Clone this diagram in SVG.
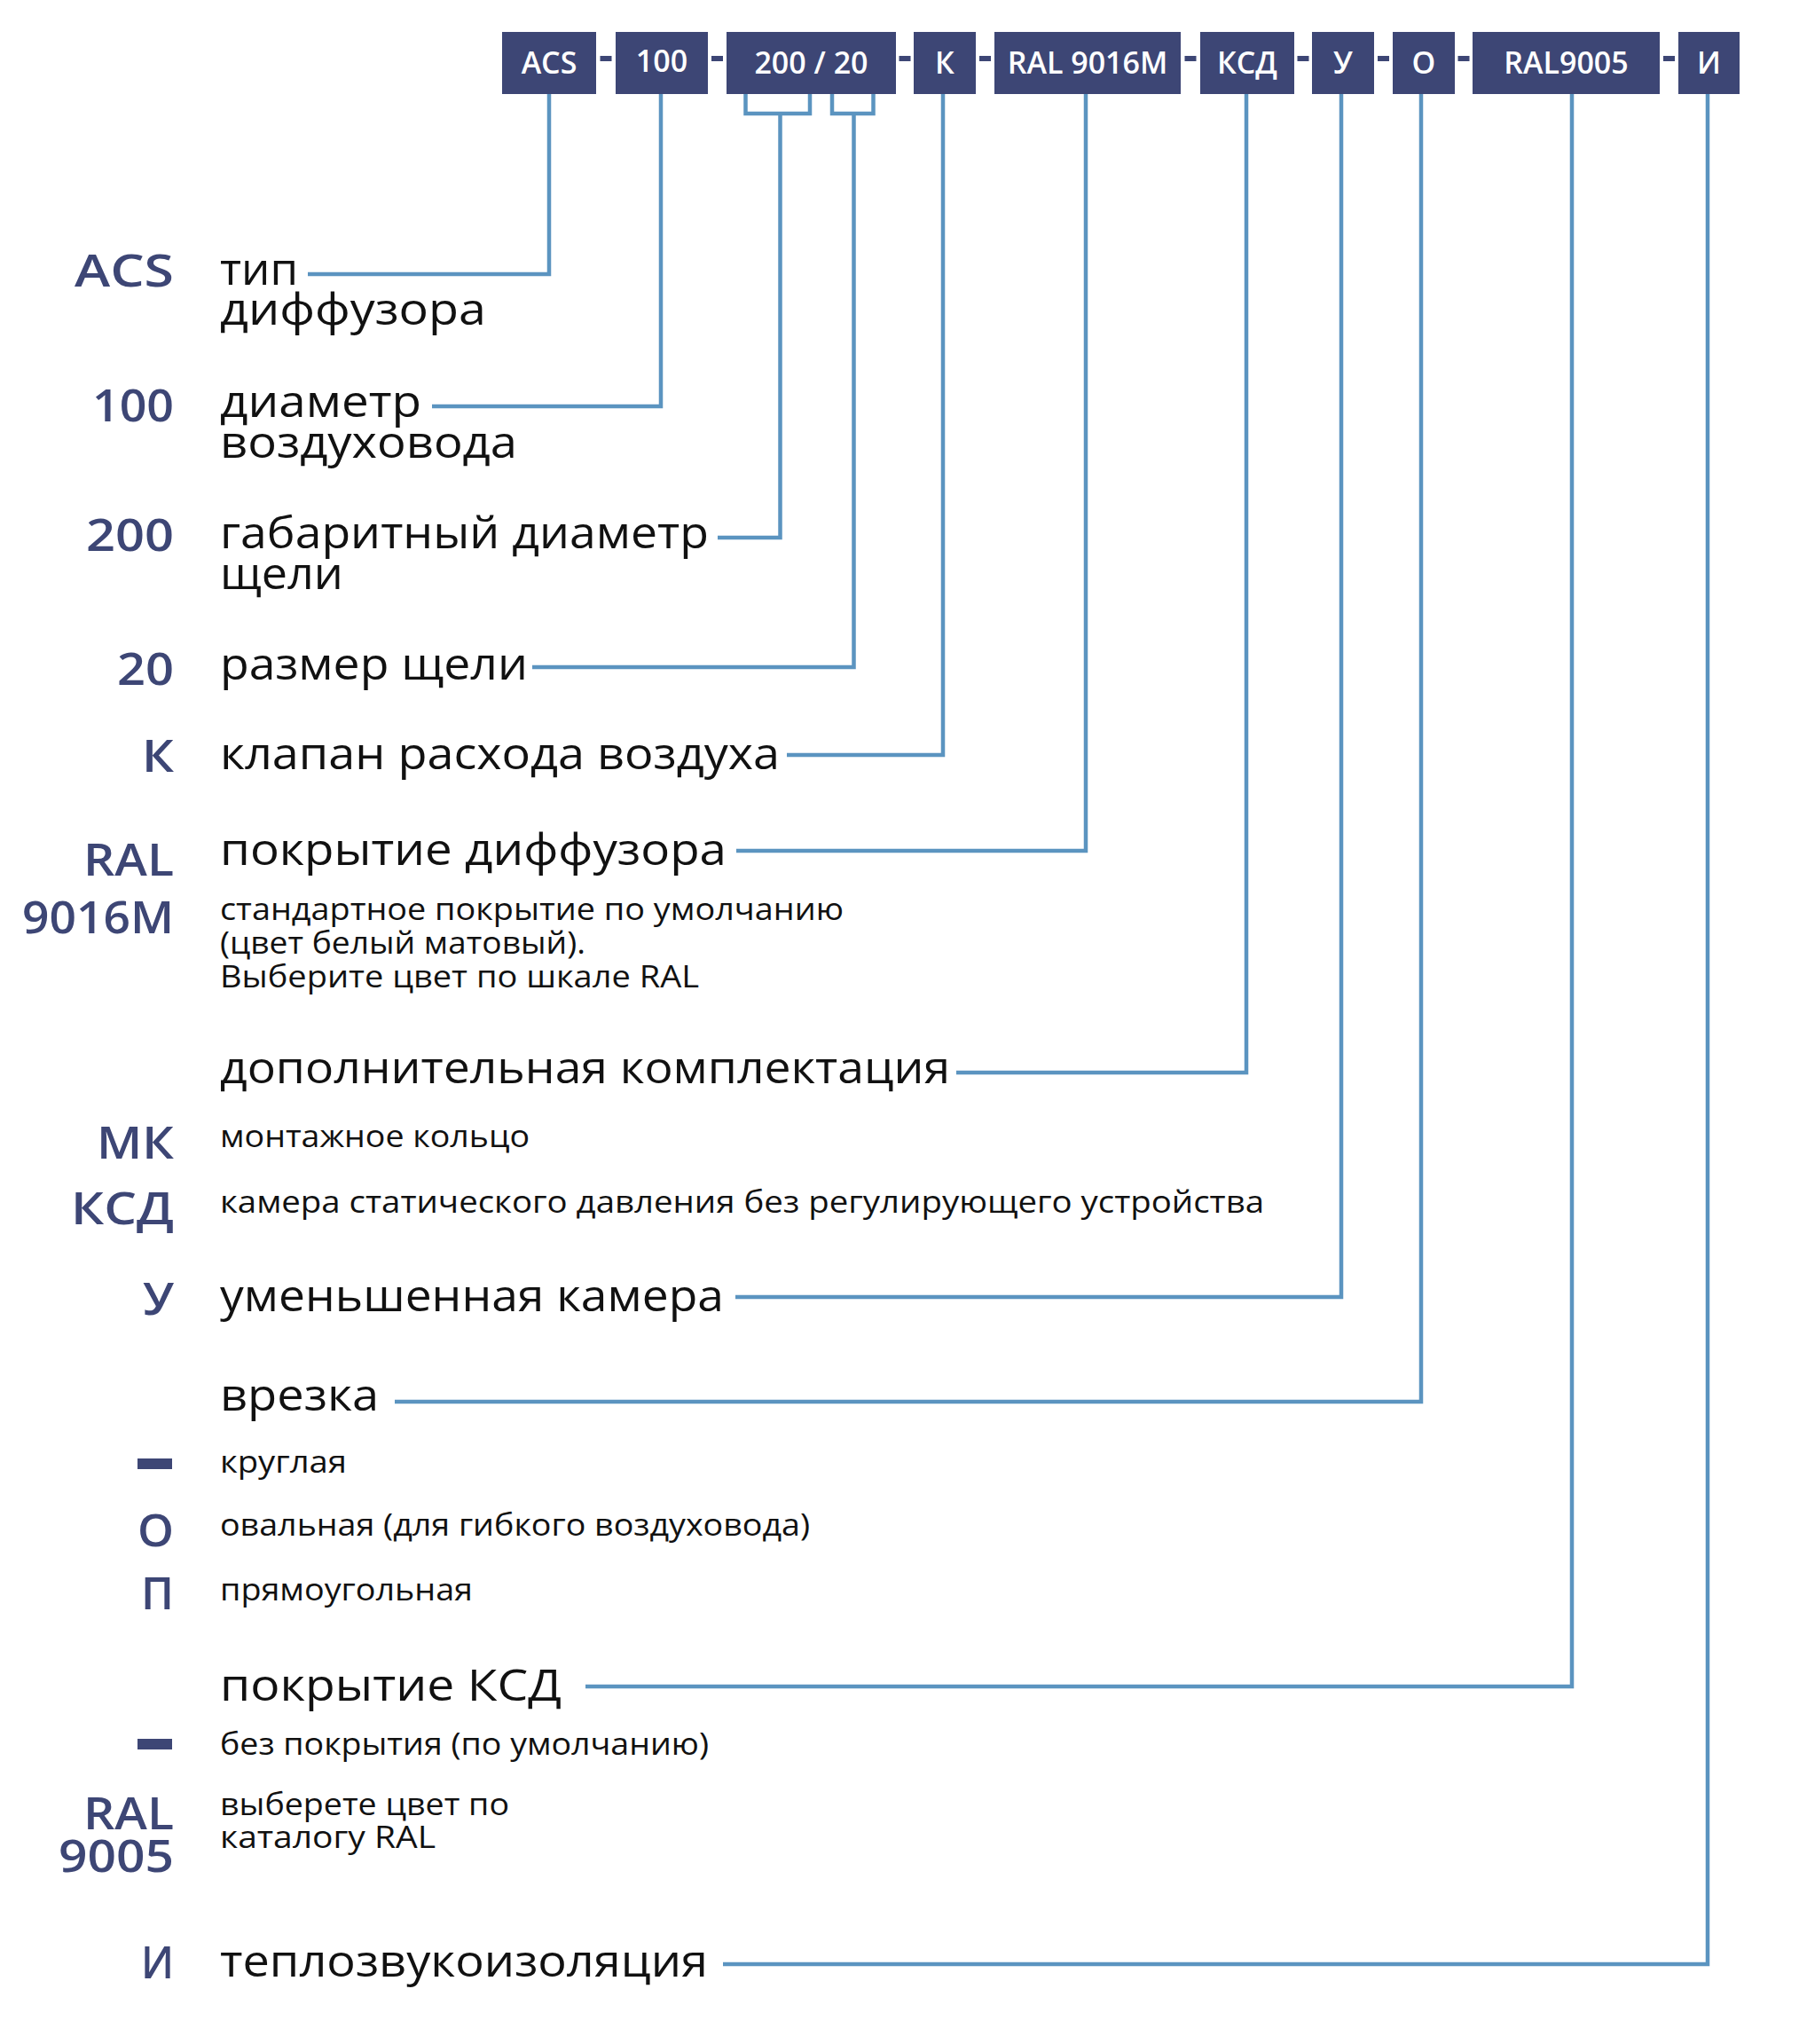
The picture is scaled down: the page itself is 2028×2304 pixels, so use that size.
<svg xmlns="http://www.w3.org/2000/svg" width="2028" height="2304" viewBox="0 0 2028 2304">
<style>
.box{fill:#3d4675}
.bt{font-family:"Open Sans","Liberation Sans",sans-serif;font-weight:600;font-size:34px;fill:#fff;text-anchor:middle}
.dash{fill:#3d4675}
.code{font-family:"Open Sans","Liberation Sans",sans-serif;font-weight:600;font-size:50px;fill:#3d4675}
.big{font-family:"Open Sans","Liberation Sans",sans-serif;font-size:50px;fill:#111}
.small{font-family:"Open Sans","Liberation Sans",sans-serif;font-size:34px;fill:#111}
.ln{fill:none;stroke:#5b94c0;stroke-width:4.5}
</style>
<rect width="2028" height="2304" fill="#fff"/>
<g id="code-boxes">
<g id="box-acs"><rect class="box" x="566" y="36" width="106" height="70"/><text class="bt" x="619" y="83">ACS</text></g>
<g id="box-100"><rect class="box" x="694" y="36" width="104" height="70"/><text class="bt" x="746" y="81">100</text></g>
<g id="box-200-20"><rect class="box" x="819" y="36" width="191" height="70"/><text class="bt" x="914.5" y="83">200 / 20</text></g>
<g id="box-k"><rect class="box" x="1030" y="36" width="70" height="70"/><text class="bt" x="1065" y="83">К</text></g>
<g id="box-ral9016m"><rect class="box" x="1121" y="36" width="210" height="70"/><text class="bt" x="1226" y="83">RAL 9016M</text></g>
<g id="box-ksd"><rect class="box" x="1353" y="36" width="106" height="70"/><text class="bt" x="1406" y="83">КСД</text></g>
<g id="box-u"><rect class="box" x="1479" y="36" width="70" height="70"/><text class="bt" x="1514" y="83">У</text></g>
<g id="box-o"><rect class="box" x="1570" y="36" width="70" height="70"/><text class="bt" x="1605" y="83">О</text></g>
<g id="box-ral9005"><rect class="box" x="1660" y="36" width="211" height="70"/><text class="bt" x="1765.5" y="83">RAL9005</text></g>
<g id="box-i"><rect class="box" x="1892" y="36" width="69" height="70"/><text class="bt" x="1926.5" y="83">И</text></g>
</g>
<g id="separators">
<rect class="dash" x="676.5" y="63" width="13" height="6"/>
<rect class="dash" x="802" y="63" width="13" height="6"/>
<rect class="dash" x="1013.5" y="63" width="13" height="6"/>
<rect class="dash" x="1104" y="63" width="13" height="6"/>
<rect class="dash" x="1335.5" y="63" width="13" height="6"/>
<rect class="dash" x="1462.5" y="63" width="13" height="6"/>
<rect class="dash" x="1553" y="63" width="13" height="6"/>
<rect class="dash" x="1643.5" y="63" width="13" height="6"/>
<rect class="dash" x="1875" y="63" width="13" height="6"/>
</g>
<g id="connectors">
<path class="ln" d="M619 106V309H347"/>
<path class="ln" d="M745 106V458H487"/>
<path class="ln" d="M840.5 106V128H913V106"/>
<path class="ln" d="M879.5 128V606H809"/>
<path class="ln" d="M938 106V128H984.5V106"/>
<path class="ln" d="M962.5 128V752H600"/>
<path class="ln" d="M1063 106V851H887"/>
<path class="ln" d="M1224 106V959H830"/>
<path class="ln" d="M1405 106V1209H1078"/>
<path class="ln" d="M1512 106V1462H829"/>
<path class="ln" d="M1602 106V1580H445"/>
<path class="ln" d="M1772 106V1901H660"/>
<path class="ln" d="M1925 106V2214H815"/>
</g>
<g id="item-acs"><text class="code" x="84" y="323" textLength="112" lengthAdjust="spacingAndGlyphs">ACS</text><text class="big" x="248" y="321" textLength="88" lengthAdjust="spacingAndGlyphs">тип</text><text class="big" x="248" y="366" textLength="300" lengthAdjust="spacingAndGlyphs">диффузора</text></g>
<g id="item-100"><text class="code" x="104" y="475" textLength="92" lengthAdjust="spacingAndGlyphs">100</text><text class="big" x="248" y="470" textLength="227" lengthAdjust="spacingAndGlyphs">диаметр</text><text class="big" x="248" y="516" textLength="335" lengthAdjust="spacingAndGlyphs">воздуховода</text></g>
<g id="item-200"><text class="code" x="97" y="621" textLength="99" lengthAdjust="spacingAndGlyphs">200</text><text class="big" x="248" y="618" textLength="551" lengthAdjust="spacingAndGlyphs">габаритный диаметр</text><text class="big" x="248" y="664" textLength="139" lengthAdjust="spacingAndGlyphs">щели</text></g>
<g id="item-20"><text class="code" x="132" y="772" textLength="64" lengthAdjust="spacingAndGlyphs">20</text><text class="big" x="248" y="766" textLength="347" lengthAdjust="spacingAndGlyphs">размер щели</text></g>
<g id="item-k"><text class="code" x="160" y="870" textLength="36" lengthAdjust="spacingAndGlyphs">К</text><text class="big" x="248" y="867" textLength="631" lengthAdjust="spacingAndGlyphs">клапан расхода воздуха</text></g>
<g id="item-ral9016m"><text class="code" x="94" y="987" textLength="102" lengthAdjust="spacingAndGlyphs">RAL</text><text class="code" x="25" y="1052" textLength="171" lengthAdjust="spacingAndGlyphs">9016M</text><text class="big" x="248" y="975" textLength="571" lengthAdjust="spacingAndGlyphs">покрытие диффузора</text>
<text class="small" x="248" y="1037" textLength="703" lengthAdjust="spacingAndGlyphs">стандартное покрытие по умолчанию</text><text class="small" x="248" y="1075" textLength="412" lengthAdjust="spacingAndGlyphs">(цвет белый матовый).</text><text class="small" x="248" y="1113" textLength="540" lengthAdjust="spacingAndGlyphs">Выберите цвет по шкале RAL</text></g>
<g id="item-ksd"><text class="big" x="248" y="1221" textLength="823" lengthAdjust="spacingAndGlyphs">дополнительная комплектация</text>
<text class="code" x="109" y="1306" textLength="87" lengthAdjust="spacingAndGlyphs">МК</text><text class="small" x="248" y="1293" textLength="349" lengthAdjust="spacingAndGlyphs">монтажное кольцо</text>
<text class="code" x="80" y="1380" textLength="116" lengthAdjust="spacingAndGlyphs">КСД</text><text class="small" x="248" y="1367" textLength="1177" lengthAdjust="spacingAndGlyphs">камера статического давления без регулирующего устройства</text></g>
<g id="item-u"><text class="code" x="161" y="1482" textLength="35" lengthAdjust="spacingAndGlyphs">У</text><text class="big" x="248" y="1478" textLength="568" lengthAdjust="spacingAndGlyphs">уменьшенная камера</text></g>
<g id="item-o"><text class="big" x="248" y="1590" textLength="179" lengthAdjust="spacingAndGlyphs">врезка</text>
<rect class="dash" x="155" y="1644" width="39" height="12"/><text class="small" x="248" y="1660" textLength="143" lengthAdjust="spacingAndGlyphs">круглая</text>
<text class="code" x="155" y="1743" textLength="41" lengthAdjust="spacingAndGlyphs">О</text><text class="small" x="248" y="1731" textLength="665" lengthAdjust="spacingAndGlyphs">овальная (для гибкого воздуховода)</text>
<text class="code" x="159" y="1814" textLength="37" lengthAdjust="spacingAndGlyphs">П</text><text class="small" x="248" y="1804" textLength="285" lengthAdjust="spacingAndGlyphs">прямоугольная</text></g>
<g id="item-ral9005"><text class="big" x="248" y="1917" textLength="385" lengthAdjust="spacingAndGlyphs">покрытие КСД</text>
<rect class="dash" x="155" y="1960" width="39" height="12"/><text class="small" x="248" y="1978" textLength="551" lengthAdjust="spacingAndGlyphs">без покрытия (по умолчанию)</text>
<text class="code" x="94" y="2062" textLength="102" lengthAdjust="spacingAndGlyphs">RAL</text><text class="code" x="66" y="2110" textLength="130" lengthAdjust="spacingAndGlyphs">9005</text><text class="small" x="248" y="2046" textLength="326" lengthAdjust="spacingAndGlyphs">выберете цвет по</text><text class="small" x="248" y="2083" textLength="243" lengthAdjust="spacingAndGlyphs">каталогу RAL</text></g>
<g id="item-i"><text class="code" x="159" y="2230" textLength="37" lengthAdjust="spacingAndGlyphs">И</text><text class="big" x="248" y="2228" textLength="550" lengthAdjust="spacingAndGlyphs">теплозвукоизоляция</text></g>
</svg>
